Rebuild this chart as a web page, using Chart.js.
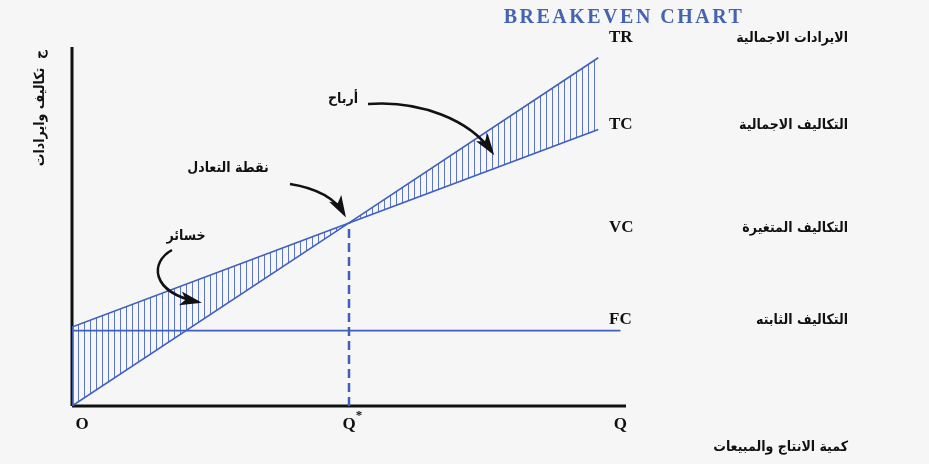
<!DOCTYPE html>
<html>
<head>
<meta charset="utf-8">
<script src="https://cdn.jsdelivr.net/npm/chart.js@4.4.1/dist/chart.umd.min.js"></script>
<style>
  body { margin: 0; background: #f6f6f6; }
  #wrap { width: 929px; height: 464px; }
</style>
</head>
<body>
<div id="wrap"><canvas id="chart"></canvas></div>
<script>
// quantities (O, Q*, Q) and values
var qty = [0, 50, 95];
var revenue = [0, 51, 97];      // TR
var totalCost = [22, 51, 77];   // TC
var fixedQty = [0, 99];
var fixedCost = [21, 21];       // FC
var breakevenQty = 50;
var breakevenValue = 51;
var axisMax = 100;

var qLabels = ['O', 'Q', 'Q'];
var lineCodes = ['TR', 'TC', 'VC', 'FC'];
var lineNames = ['الايرادات الاجمالية', 'التكاليف الاجمالية', 'التكاليف المتغيرة', 'التكاليف الثابته'];

var blue = '#3f5fbf';
var arFont = 'bold 14px "DejaVu Sans Condensed", "DejaVu Sans"';

function pts(xs, ys) {
    var out = [];
    for (var i = 0; i < xs.length; i++) out.push({x: xs[i], y: ys[i]});
    return out;
}

// vertical hatch pattern
var pc = document.createElement('canvas');
pc.width = 6; pc.height = 6;
var pctx = pc.getContext('2d');
pctx.strokeStyle = 'rgba(63,95,191,0.85)';
pctx.lineWidth = 1;
pctx.beginPath();
pctx.moveTo(0.5, 0); pctx.lineTo(0.5, 6);
pctx.stroke();
var ctx = document.getElementById('chart').getContext('2d');
var hatch = ctx.createPattern(pc, 'repeat');

function arrow(c, x0, y0, c1x, c1y, c2x, c2y, x1, y1) {
    c.beginPath();
    c.moveTo(x0, y0);
    c.bezierCurveTo(c1x, c1y, c2x, c2y, x1, y1);
    c.lineWidth = 2.5;
    c.strokeStyle = '#111';
    c.stroke();
    var a = Math.atan2(y1 - c2y, x1 - c2x);
    var len = 18, w = 7;
    c.beginPath();
    c.moveTo(x1 + Math.cos(a) * 4, y1 + Math.sin(a) * 4);
    c.lineTo(x1 - Math.cos(a) * len - Math.sin(a) * w, y1 - Math.sin(a) * len + Math.cos(a) * w);
    c.lineTo(x1 - Math.cos(a) * len * 0.7, y1 - Math.sin(a) * len * 0.7);
    c.lineTo(x1 - Math.cos(a) * len + Math.sin(a) * w, y1 - Math.sin(a) * len - Math.cos(a) * w);
    c.closePath();
    c.fillStyle = '#111';
    c.fill();
}

var textPlugin = {
    id: 'texts',
    afterDraw: function(chart) {
        var c = chart.ctx;
        var xs = chart.scales.x, ys = chart.scales.y;
        c.save();
        // title
        c.fillStyle = '#4663b2';
        c.font = 'bold 20px "Liberation Serif"';
        c.textAlign = 'center';
        c.textBaseline = 'middle';
        c.letterSpacing = '2.5px';
        c.fillText('BREAKEVEN CHART', 624, 18);
        c.letterSpacing = '0px';

        // quantity labels
        c.fillStyle = '#111';
        c.font = 'bold 17px "Liberation Serif"';
        var by = ys.getPixelForValue(0) + 19;
        for (var i = 0; i < qty.length; i++) {
            c.fillText(qLabels[i], xs.getPixelForValue(qty[i]) + (i == 0 ? 10 : (i == 2 ? 22 : 0)), by);
        }
        c.font = 'bold 13px "Liberation Serif"';
        c.fillText('*', xs.getPixelForValue(qty[1]) + 10, by - 9);

        // line codes and names
        var rowY = [38, 125, 228, 320];
        for (var j = 0; j < lineCodes.length; j++) {
            c.textAlign = 'left';
            c.font = 'bold 17px "Liberation Serif"';
            c.fillText(lineCodes[j], 609, rowY[j]);
            c.textAlign = 'right';
            c.font = arFont;
            c.fillText(lineNames[j], 848, rowY[j]);
        }
        c.fillText('كمية الانتاج والمبيعات', 848, 447);

        // annotations
        c.textAlign = 'center';
        c.fillText('أرباح', 343, 99);
        c.fillText('نقطة التعادل', 228, 168);
        c.fillText('خسائر', 186, 236);
        arrow(c, 368, 104, 420, 100, 470, 120, 492, 152);
        arrow(c, 290, 184, 315, 188, 335, 198, 344, 214);
        arrow(c, 172, 250, 150, 262, 150, 292, 198, 302);

        // y axis title
        c.translate(40, 108);
        c.rotate(-Math.PI / 2);
        c.fillText('ج  تكاليف وايرادات', 0, 0);
        c.restore();
    }
};

new Chart(ctx, {
    type: 'line',
    data: {
        datasets: [
            {
                label: 'TR',
                data: pts(qty, revenue),
                borderColor: blue,
                borderWidth: 1.6,
                backgroundColor: hatch,
                fill: '+1',
                pointRadius: 0
            },
            {
                label: 'TC',
                data: pts(qty, totalCost),
                borderColor: blue,
                borderWidth: 1.6,
                fill: false,
                pointRadius: 0
            },
            {
                label: 'FC',
                data: pts(fixedQty, fixedCost),
                borderColor: blue,
                borderWidth: 1.6,
                fill: false,
                pointRadius: 0
            },
            {
                label: 'breakeven',
                data: [{x: breakevenQty, y: 0}, {x: breakevenQty, y: breakevenValue}],
                borderColor: blue,
                borderWidth: 2.5,
                borderDash: [9, 5],
                fill: false,
                pointRadius: 0
            },
            {
                label: 'yaxis',
                data: [{x: 0, y: 0}, {x: 0, y: axisMax}],
                borderColor: '#111',
                borderWidth: 3,
                fill: false,
                pointRadius: 0,
                clip: false
            },
            {
                label: 'xaxis',
                data: [{x: 0, y: 0}, {x: axisMax, y: 0}],
                borderColor: '#111',
                borderWidth: 3,
                fill: false,
                pointRadius: 0,
                clip: false
            }
        ]
    },
    options: {
        responsive: true,
        maintainAspectRatio: false,
        animation: false,
        layout: { padding: { left: 72, right: 303, top: 47, bottom: 58 } },
        scales: {
            x: { type: 'linear', display: false, min: 0, max: axisMax },
            y: { type: 'linear', display: false, min: 0, max: axisMax }
        },
        plugins: {
            legend: { display: false },
            tooltip: { enabled: false }
        }
    },
    plugins: [textPlugin]
});
</script>
</body>
</html>
